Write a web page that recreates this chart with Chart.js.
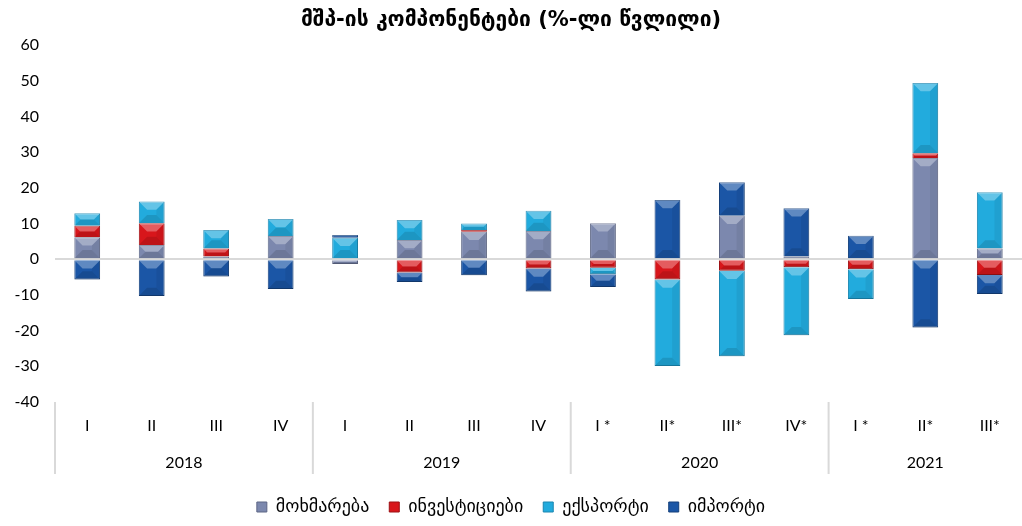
<!DOCTYPE html>
<html>
<head>
<meta charset="utf-8">
<script src="https://cdn.jsdelivr.net/npm/chart.js@4"></script>
<style>
html,body{margin:0;padding:0;background:#fff;}
#wrap{width:1022px;height:526px;}
</style>
</head>
<body>
<div id="wrap"><canvas id="c" width="1022" height="526"></canvas></div>
<script>
const quarters = ["I","II","III","IV","I","II","III","IV","I *","II*","III*","IV*","I *","II*","III*"];
const years = ["2018","2019","2020","2021"];
const yearGroups = [[0,3],[4,7],[8,11],[12,14]];
const consumption = [6.2, 4.0, 0.8, 6.5, -1.3, 5.4, 7.7, 7.9, 10.1, null, 12.2, 0.8, null, 28.4, 3.0];
const investment  = [3.2, 6.1, 2.2, -0.3, null, -3.7, 0.5, -2.6, -2.4, -5.7, -3.2, -2.2, -2.8, 1.3, -4.4];
const exportsV    = [3.5, 6.1, 5.2, 4.8, 6.0, 5.6, 1.8, 5.7, -1.8, -24.2, -24.0, -19.1, -8.3, 19.7, 15.8];
const importsV    = [-5.7, -10.3, -4.8, -8.0, 0.8, -2.7, -4.5, -6.4, -3.6, 16.6, 9.4, 13.5, 6.6, -19.1, -5.3];
const seriesNames = ["მოხმარება","ინვესტიციები","ექსპორტი","იმპორტი"];
const colors = ["#7c88ae","#d8161b","#22abdd","#1b56a6"];
const borders = ["#5d6685","#9c1014","#1a86b0","#143f7a"];

const GEO = "'DejaVu Sans', 'Noto Sans', sans-serif";
const NUM = "Lato, 'Liberation Sans', sans-serif";

const bevel = {
  id:'bevel',
  afterDatasetsDraw(chart){
    const ctx = chart.ctx;
    chart.data.datasets.forEach((ds,di)=>{
      const meta = chart.getDatasetMeta(di);
      meta.data.forEach(el=>{
        const top = Math.min(el.y, el.base), bot = Math.max(el.y, el.base);
        const h = bot-top; if (h < 1) return;
        const l = el.x - el.width/2, r = el.x + el.width/2;
        const d = Math.min(el.width*0.32, h/2);
        ctx.save();
        ctx.beginPath(); ctx.moveTo(l,top); ctx.lineTo(r,top); ctx.lineTo(r-d,top+d); ctx.lineTo(l+d,top+d); ctx.closePath();
        ctx.fillStyle='rgba(255,255,255,0.3)'; ctx.fill();
        ctx.beginPath(); ctx.moveTo(l,bot); ctx.lineTo(r,bot); ctx.lineTo(r-d,bot-d); ctx.lineTo(l+d,bot-d); ctx.closePath();
        ctx.fillStyle='rgba(0,0,0,0.12)'; ctx.fill();
        ctx.beginPath(); ctx.moveTo(r,top); ctx.lineTo(r,bot); ctx.lineTo(r-d,bot-d); ctx.lineTo(r-d,top+d); ctx.closePath();
        ctx.fillStyle='rgba(0,0,0,0.06)'; ctx.fill();
        ctx.restore();
      });
    });
  }
};

const groups = {
  id:'groups',
  afterDraw(chart){
    const ctx = chart.ctx, x = chart.scales.x, ca = chart.chartArea;
    const step = x.getPixelForValue(1) - x.getPixelForValue(0);
    ctx.save();
    ctx.strokeStyle = '#d9d9d9'; ctx.lineWidth = 2;
    const seps = yearGroups.map(g=>x.getPixelForValue(g[0]) - step/2);
    seps.forEach(px=>{ ctx.beginPath(); ctx.moveTo(px, ca.bottom); ctx.lineTo(px, ca.bottom+72); ctx.stroke(); });
    ctx.fillStyle = '#000'; ctx.font = "16px " + NUM; ctx.textAlign='center'; ctx.textBaseline='middle';
    yearGroups.forEach((g,i)=>{
      const cx = (x.getPixelForValue(g[0]) + x.getPixelForValue(g[1]))/2;
      ctx.fillText(years[i], cx, ca.bottom + 61);
    });
    ctx.restore();
  }
};

new Chart(document.getElementById('c'), {
  type:'bar',
  data:{
    labels: quarters,
    datasets: [consumption, investment, exportsV, importsV].map((d,i)=>({
      label: seriesNames[i], data: d, backgroundColor: colors[i], borderColor: borders[i], borderWidth: 1,
      barPercentage: 0.40, categoryPercentage: 1.0
    }))
  },
  options:{
    responsive:false, animation:false,
    layout:{padding:{left:0,right:0,top:0,bottom:0}},
    plugins:{
      title:{display:true, text:"მშპ-ის კომპონენტები (%-ლი წვლილი)", color:'#000',
        font:{family:GEO, size:21, weight:'bold'}, padding:{top:8,bottom:12}},
      legend:{position:'bottom', labels:{color:'#000', font:{family:GEO, size:18}, boxWidth:10, boxHeight:10, padding:20}},
      tooltip:{enabled:false}
    },
    scales:{
      x:{stacked:true, grid:{display:false}, border:{display:false},
        ticks:{color:'#000', font:{family:NUM, size:16}, padding:6, maxRotation:0, autoSkip:false},
        afterFit(s){ s.height = 76; }},
      y:{stacked:true, min:-40, max:60, border:{display:false},
        ticks:{stepSize:10, color:'#000', font:{family:NUM, size:16}, padding:16},
        grid:{drawTicks:false, color:c=>c.tick.value===0?'#d9d9d9':'rgba(0,0,0,0)', lineWidth:2},
        afterFit(s){ s.width = 55; }}
    }
  },
  plugins:[bevel, groups]
});
</script>
</body>
</html>
